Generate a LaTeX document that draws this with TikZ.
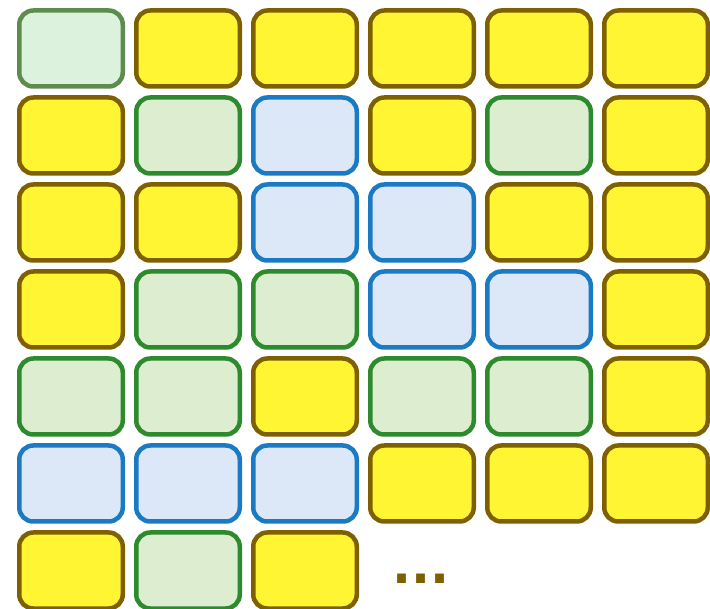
\documentclass[tikz,border=0pt]{standalone}
\usepackage{fontspec}
\newfontfamily\dotfont{DejaVu Sans}
\definecolor{yfill}{HTML}{FFF533}
\definecolor{ydraw}{HTML}{7F6000}
\definecolor{gfill}{HTML}{DCEDD0}
\definecolor{gdraw}{HTML}{2D8A2D}
\definecolor{g0fill}{HTML}{DDF2DD}
\definecolor{g0draw}{HTML}{5E8C4E}
\definecolor{bfill}{HTML}{DCE8F7}
\definecolor{bdraw}{HTML}{1B7AC4}
\tikzset{
  cell/.style={rectangle, rounded corners=14pt, line width=4.5pt, minimum width=103.5pt, minimum height=76pt, inner sep=0pt},
  ycell/.style={cell, fill=yfill, draw=ydraw},
  gcell/.style={cell, fill=gfill, draw=gdraw},
  g0cell/.style={cell, fill=g0fill, draw=g0draw},
  bcell/.style={cell, fill=bfill, draw=bdraw},
}
\begin{document}
\begin{tikzpicture}[x=1pt,y=-1pt]
\useasboundingbox (0,0) rectangle (710,609);
\fill[white] (0,0) rectangle (710,609);
\def\cx#1{71+117*#1}
\def\cy#1{48.5+87*#1}
% row 1
\node[g0cell] (r1c1) at ({\cx0},{\cy0}) {};
\node[ycell] (r1c2) at ({\cx1},{\cy0}) {};
\node[ycell] (r1c3) at ({\cx2},{\cy0}) {};
\node[ycell] (r1c4) at ({\cx3},{\cy0}) {};
\node[ycell] (r1c5) at ({\cx4},{\cy0}) {};
\node[ycell] (r1c6) at ({\cx5},{\cy0}) {};
% row 2
\node[ycell] (r2c1) at ({\cx0},{\cy1}) {};
\node[gcell] (r2c2) at ({\cx1},{\cy1}) {};
\node[bcell] (r2c3) at ({\cx2},{\cy1}) {};
\node[ycell] (r2c4) at ({\cx3},{\cy1}) {};
\node[gcell] (r2c5) at ({\cx4},{\cy1}) {};
\node[ycell] (r2c6) at ({\cx5},{\cy1}) {};
% row 3
\node[ycell] (r3c1) at ({\cx0},{\cy2}) {};
\node[ycell] (r3c2) at ({\cx1},{\cy2}) {};
\node[bcell] (r3c3) at ({\cx2},{\cy2}) {};
\node[bcell] (r3c4) at ({\cx3},{\cy2}) {};
\node[ycell] (r3c5) at ({\cx4},{\cy2}) {};
\node[ycell] (r3c6) at ({\cx5},{\cy2}) {};
% row 4
\node[ycell] (r4c1) at ({\cx0},{\cy3}) {};
\node[gcell] (r4c2) at ({\cx1},{\cy3}) {};
\node[gcell] (r4c3) at ({\cx2},{\cy3}) {};
\node[bcell] (r4c4) at ({\cx3},{\cy3}) {};
\node[bcell] (r4c5) at ({\cx4},{\cy3}) {};
\node[ycell] (r4c6) at ({\cx5},{\cy3}) {};
% row 5
\node[gcell] (r5c1) at ({\cx0},{\cy4}) {};
\node[gcell] (r5c2) at ({\cx1},{\cy4}) {};
\node[ycell] (r5c3) at ({\cx2},{\cy4}) {};
\node[gcell] (r5c4) at ({\cx3},{\cy4}) {};
\node[gcell] (r5c5) at ({\cx4},{\cy4}) {};
\node[ycell] (r5c6) at ({\cx5},{\cy4}) {};
% row 6
\node[bcell] (r6c1) at ({\cx0},{\cy5}) {};
\node[bcell] (r6c2) at ({\cx1},{\cy5}) {};
\node[bcell] (r6c3) at ({\cx2},{\cy5}) {};
\node[ycell] (r6c4) at ({\cx3},{\cy5}) {};
\node[ycell] (r6c5) at ({\cx4},{\cy5}) {};
\node[ycell] (r6c6) at ({\cx5},{\cy5}) {};
% row 7
\node[ycell] (r7c1) at ({\cx0},{\cy6}) {};
\node[gcell] (r7c2) at ({\cx1},{\cy6}) {};
\node[ycell] (r7c3) at ({\cx2},{\cy6}) {};
\node[text=ydraw, inner sep=0pt, font=\dotfont\bfseries\fontsize{50}{50}\selectfont] (dots) at (421,579) {...};
\end{tikzpicture}
\end{document}
